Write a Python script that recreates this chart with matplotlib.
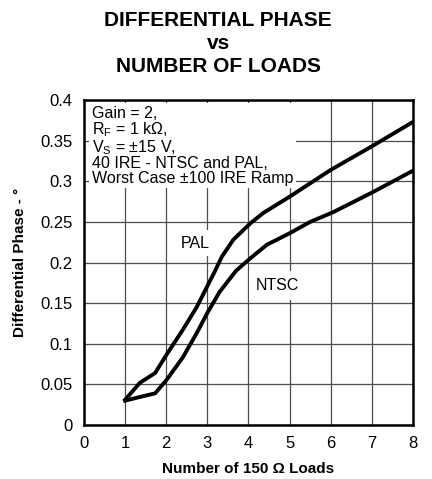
import matplotlib.pyplot as plt

plt.rcParams['font.family'] = ['Liberation Sans', 'DejaVu Sans']
plt.rcParams['mathtext.fontset'] = 'custom'
plt.rcParams['mathtext.rm'] = 'Liberation Sans'

# curve values
pal_x = [1.0, 1.36, 1.73, 2.0, 2.4, 2.74, 3.0, 3.2, 3.35, 3.63, 4.04, 4.36, 5.0, 6.0, 7.0, 8.0]
pal_y = [0.031, 0.052, 0.064, 0.086, 0.117, 0.145, 0.171, 0.191, 0.207, 0.228, 0.248, 0.261, 0.281, 0.314, 0.343, 0.373]

ntsc_x = [1.0, 1.4, 1.73, 2.0, 2.4, 2.74, 3.0, 3.3, 3.7, 4.04, 4.45, 5.0, 5.5, 6.06, 7.0, 8.0]
ntsc_y = [0.030, 0.035, 0.039, 0.055, 0.083, 0.113, 0.138, 0.164, 0.190, 0.205, 0.222, 0.236, 0.250, 0.262, 0.286, 0.313]

x_ticks = [0, 1, 2, 3, 4, 5, 6, 7, 8]
y_ticks = [0, 0.05, 0.1, 0.15, 0.2, 0.25, 0.3, 0.35, 0.4]
y_labels = ['0', '0.05', '0.1', '0.15', '0.2', '0.25', '0.3', '0.35', '0.4']

notes = ("Gain = 2,\n"
         "R$_\\mathregular{F}$ = 1 k\u03a9,\n"
         "V$_\\mathregular{S}$ = \u00b115 V,\n"
         "40 IRE - NTSC and PAL,\n"
         "Worst Case \u00b1100 IRE Ramp")

fig = plt.figure(figsize=(4.32, 4.79), dpi=100)
ax = fig.add_axes([0.1944, 0.1127, 0.7616, 0.6785])

ax.plot(pal_x, pal_y, color='black', linewidth=2.8, solid_joinstyle='round', zorder=4)
ax.plot(ntsc_x, ntsc_y, color='black', linewidth=2.8, solid_joinstyle='round', zorder=4)

ax.set_xlim(0, 8)
ax.set_ylim(0, 0.4)
ax.set_xticks(x_ticks)
ax.set_yticks(y_ticks)
ax.set_yticklabels(y_labels)
ax.tick_params(length=0, labelsize=12, pad=8)
ax.grid(True, color='0.3', linewidth=0.9)
ax.set_axisbelow(True)
for s in ax.spines.values():
    s.set_linewidth(1.8)

ax.text(0.2, 0.393, notes, fontsize=11.5, va='top', ha='left', linespacing=0.95,
        bbox=dict(facecolor='white', edgecolor='none', pad=2), zorder=3)
ax.text(2.7, 0.224, "PAL", fontsize=11.5, ha='center', va='center',
        bbox=dict(facecolor='white', edgecolor='none', pad=4), zorder=3)
ax.text(4.7, 0.172, "NTSC", fontsize=11.5, ha='center', va='center',
        bbox=dict(facecolor='white', edgecolor='none', pad=5), zorder=3)

ax.set_xlabel("Number of 150 \u03a9 Loads", fontsize=11, fontweight='bold', labelpad=8)
ax.set_ylabel("Differential Phase - \u00b0", fontsize=11, fontweight='bold', labelpad=10)

fig.text(0.505, 0.977, "DIFFERENTIAL PHASE\nvs\nNUMBER OF LOADS", fontsize=15,
         fontweight='bold', ha='center', va='top', linespacing=1.25)

fig.savefig("out.png", dpi=100)
